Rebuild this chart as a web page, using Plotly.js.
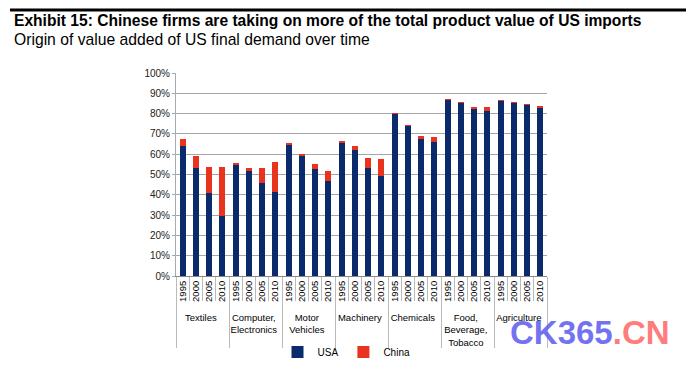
<!DOCTYPE html>
<html>
<head>
<meta charset="utf-8">
<script src="https://cdn.plot.ly/plotly-3.0.1.min.js"></script>
<style>
html,body{margin:0;padding:0;background:#fff;}
#chart{width:686px;height:367px;}
</style>
</head>
<body>
<div id="chart"></div>
<script>
const sectors = ["Textiles", "Computer,<br>Electronics", "Motor<br>Vehicles", "Machinery", "Chemicals", "Food,<br>Beverage,<br>Tobacco", "Agriculture"];
const years = ["1995", "2000", "2005", "2010"];
// USA share of value added (%), per sector, per year
const usaValues = [
  64.1, 53.4, 41.1, 29.8,
  54.8, 51.8, 45.7, 41.4,
  64.6, 59.2, 52.5, 46.9,
  65.3, 62.2, 53.4, 49.5,
  79.6, 73.7, 67.6, 66.1,
  86.8, 85.2, 82.1, 81.4,
  86.3, 85.3, 84.2, 82.7
];
// China share of value added (%)
const chinaValues = [
  3.6, 5.6, 12.7, 24.0,
  0.9, 1.5, 7.6, 14.7,
  0.7, 0.8, 2.8, 4.9,
  1.1, 1.6, 4.8, 8.2,
  0.5, 0.6, 1.5, 2.3,
  0.5, 0.5, 1.1, 1.8,
  0.5, 0.5, 0.6, 1.2
];
const seriesNames = ["USA", "China"];
const seriesColors = ["#0b2a6c", "#e8331e"];

const groupAxis = [];
const yearAxis = [];
sectors.forEach(s => years.forEach(y => { groupAxis.push(s); yearAxis.push(y); }));

const traces = [usaValues, chinaValues].map((vals, i) => ({
  type: "bar",
  name: seriesNames[i],
  x: [groupAxis, yearAxis],
  y: vals.map(v => v / 100),
  marker: {color: seriesColors[i], line: {width: 0}},
  hoverinfo: "none"
}));

const layout = {
  width: 686, height: 367,
  margin: {l: 176, r: 139, t: 73, b: 91, autoexpand: false},
  paper_bgcolor: "#fff", plot_bgcolor: "#fff",
  barmode: "stack",
  bargap: 0.56,
  font: {family: "Liberation Sans, Arial, sans-serif", size: 10, color: "#000"},
  showlegend: true,
  legend: {orientation: "h", x: (346.5 - 176) / 371, xanchor: "center", y: -0.374, yanchor: "middle",
           font: {size: 10, color: "#000"}, itemwidth: 30, traceorder: "normal",
           bgcolor: "rgba(0,0,0,0)"},
  xaxis: {
    type: "multicategory",
    automargin: false,
    tickangle: -90,
    showline: true, linecolor: "#888", linewidth: 1,
    ticks: "outside", tickcolor: "#bbb", ticklen: 24,
    showdividers: true, dividercolor: "#bbb", dividerwidth: 1,
    tickfont: {size: 9.5, color: "#000"},
    showgrid: false
  },
  yaxis: {
    automargin: false,
    range: [0, 1], tickformat: ".0%", dtick: 0.1,
    showgrid: true, gridcolor: "#a6a6a6", gridwidth: 1,
    showline: true, linecolor: "#aaa", linewidth: 1,
    ticks: "outside", tickcolor: "#aaa", ticklen: 3,
    tickfont: {size: 10, color: "#222"},
    zeroline: false, fixedrange: true
  },
  shapes: [
    {type: "line", xref: "paper", yref: "paper", x0: (10 - 176) / 371, x1: (686 - 176) / 371,
     y0: 1 + (73 - 10) / 203, y1: 1 + (73 - 10) / 203, line: {color: "#000", width: 3}}
  ],
  annotations: [
    {xref: "paper", yref: "paper", x: (12 - 176) / 371, y: 1 + (73 - 20) / 203, xanchor: "left", yanchor: "middle",
     showarrow: false, text: "<b>Exhibit 15: Chinese firms are taking on more of the total product value of US imports</b>",
     font: {family: "Liberation Sans, Arial, sans-serif", size: 15.6, color: "#000"}},
    {xref: "paper", yref: "paper", x: (12 - 176) / 371, y: 1 + (73 - 39) / 203, xanchor: "left", yanchor: "middle",
     showarrow: false, text: "Origin of value added of US final demand over time",
     font: {family: "Liberation Sans, Arial, sans-serif", size: 15.7, color: "#000"}},
    {xref: "paper", yref: "paper", x: (508 - 176) / 371, y: (276 - 332) / 203, xanchor: "left", yanchor: "middle",
     showarrow: false, text: "<b><span style='color:rgba(90,90,240,0.85)'>CK365</span><span style='color:rgba(255,100,100,0.85)'>.CN</span></b>",
     font: {family: "Liberation Sans, Arial, sans-serif", size: 33}}
  ]
};

Plotly.newPlot("chart", traces, layout, {staticPlot: true, displayModeBar: false});
</script>
</body>
</html>
